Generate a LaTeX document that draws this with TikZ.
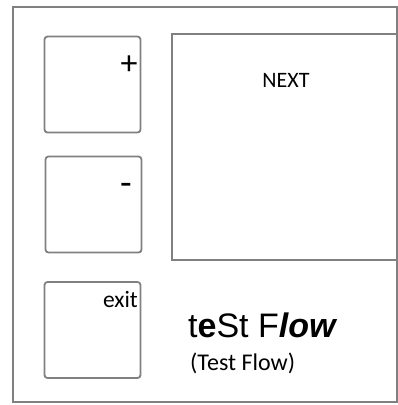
\documentclass[tikz,border=0pt]{standalone}
\usepackage{fontspec}
\setmainfont{Carlito}
\newfontfamily\arialfont{Liberation Sans}
\usetikzlibrary{positioning}
\definecolor{edgegray}{RGB}{128,128,128}

\begin{document}
\begin{tikzpicture}[x=1pt,y=-1pt,
	frame/.style={draw=edgegray, line width=1.6pt},
	btn/.style={draw=edgegray, line width=1.8pt, rounded corners=3pt,
		minimum width=96pt, minimum height=96pt, inner sep=0pt},
	btntext/.style={inner sep=0pt, font=\fontsize{23.5}{28}\selectfont}]
\useasboundingbox (0,0) rectangle (398,405);
\draw[frame] (13,7) rectangle (397,402);
% buttons on the left
\node[btn] (plusbtn) at (92.5,84.5) {};
\node[btn] (minusbtn) at (93.5,204.5) {};
\node[btn] (exitbtn) at (92.5,330) {};
\node[inner sep=0pt, font=\fontsize{34}{38}\selectfont] (plus) at (129,65.5) {+};
\node[inner sep=0pt, font=\fontsize{38}{42}\selectfont] (minus) at (126,189) {-};
\node[btntext, anchor=base east] (exit) at (138,307) {exit};
% panel
\draw[frame] (172,34) rectangle (397,260);
\node[inner sep=0pt, font=\fontsize{22}{26}\selectfont] (next) at (286,80) {NEXT};
% title
\node[inner sep=0pt, anchor=base west, font=\arialfont\fontsize{34}{38}\selectfont]
	(title) at (188,337) {t\textbf{e}St F\textbf{\textit{low}}};
\node[inner sep=0pt, anchor=base west, font=\fontsize{24}{28}\selectfont]
	(subtitle) at (190,370) {(Test Flow)};
\end{tikzpicture}
\end{document}
